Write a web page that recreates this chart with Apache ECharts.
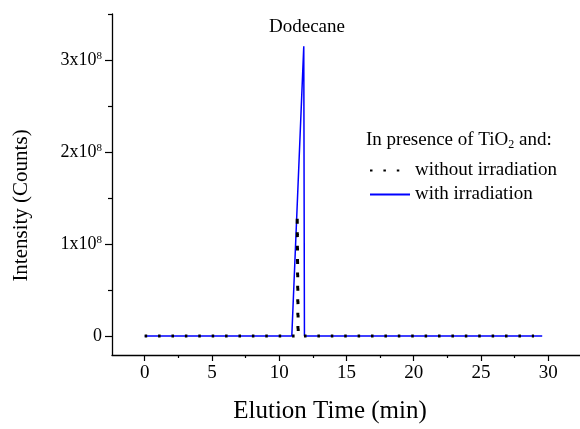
<!DOCTYPE html>
<html>
<head>
<meta charset="utf-8">
<script src="https://cdn.jsdelivr.net/npm/echarts@6/dist/echarts.min.js"></script>
<style>
  html, body { margin: 0; padding: 0; background: #fff; }
  #chart { width: 580px; height: 429px; }
</style>
</head>
<body>
<div id="chart"></div>
<script>
// elution time (min) / intensity (counts)
var timeWith = [0, 10.94, 11.83, 11.88, 12.7, 12.8, 12.9, 29.56];
var countsWith = [0, 0, 3.15e8, 0, 0, 0.02e8, 0, 0];
var timeWithout = [0, 11.4, 11.34, 11.42, 28.95];
var countsWithout = [0, 0, 1.32e8, 0, 0];

var xTicks = [0, 5, 10, 15, 20, 25, 30];
var xMinorTicks = [2.5, 7.5, 12.5, 17.5, 22.5, 27.5, 32.5];
var yTicks = [0, 1e8, 2e8, 3e8];
var yMinorTicks = [0.5e8, 1.5e8, 2.5e8, 3.5e8];

function pairs(xs, ys) {
    return xs.map(function (x, i) { return [x, ys[i]]; });
}

var font = 'Liberation Serif';
var chart = echarts.init(document.getElementById('chart'));

var xBase = {
    type: 'value',
    position: 'bottom',
    min: -2.43,
    max: 32.37,
    splitLine: { show: false }
};
var yBase = {
    type: 'value',
    position: 'left',
    min: -0.206e8,
    max: 3.5e8,
    splitLine: { show: false }
};

var option = {
    animation: false,
    textStyle: { fontFamily: font },
    grid: { left: 112, right: 0, top: 14, bottom: 66 },
    xAxis: [
        Object.assign({}, xBase, {
            name: 'Elution Time (min)',
            nameLocation: 'middle',
            nameGap: 44,
            nameTextStyle: { fontFamily: font, fontSize: 25, color: '#000', padding: [0, 32, 0, 0] },
            axisLine: { onZero: false, lineStyle: { color: '#000', width: 1.3 } },
            axisTick: { customValues: xTicks, length: 6, lineStyle: { color: '#000', width: 1.2 } },
            axisLabel: { customValues: xTicks, margin: 9, fontFamily: font, fontSize: 19, color: '#000' }
        }),
        Object.assign({}, xBase, {
            axisLine: { show: false, onZero: false },
            axisTick: { customValues: xMinorTicks, length: 3, lineStyle: { color: '#000', width: 1.2 } },
            axisLabel: { show: false }
        })
    ],
    yAxis: [
        Object.assign({}, yBase, {
            name: 'Intensity (Counts)',
            nameLocation: 'middle',
            nameGap: 80,
            nameRotate: 90,
            nameTextStyle: { fontFamily: font, fontSize: 21, color: '#000', padding: [0, 42, 0, 0] },
            axisLine: { onZero: false, lineStyle: { color: '#000', width: 1.3 } },
            axisTick: { customValues: yTicks, length: 7, lineStyle: { color: '#000', width: 1.2 } },
            axisLabel: {
                customValues: yTicks,
                margin: 10,
                formatter: function (v) {
                    if (v === 0) return '{b|0}';
                    return '{b|' + Math.round(v / 1e8) + 'x10}{s|8}';
                },
                rich: {
                    b: { fontFamily: font, fontSize: 18, color: '#000' },
                    s: { fontFamily: font, fontSize: 11, color: '#000', verticalAlign: 'top', padding: [0, 0, 8, 0] }
                }
            }
        }),
        Object.assign({}, yBase, {
            axisLine: { show: false, onZero: false },
            axisTick: { customValues: yMinorTicks, length: 4, lineStyle: { color: '#000', width: 1.2 } },
            axisLabel: { show: false }
        })
    ],
    legend: {
        orient: 'vertical',
        left: 364,
        top: 156,
        itemWidth: 40,
        itemHeight: 14,
        itemGap: 5,
        itemStyle: { opacity: 0 },
        textStyle: { fontFamily: font, fontSize: 19, color: '#000' },
        data: ['without irradiation', 'with irradiation']
    },
    graphic: [
        {
            type: 'text',
            x: 307,
            y: 27,
            style: { text: 'Dodecane', font: '19px "Liberation Serif"', fill: '#000', align: 'center', verticalAlign: 'middle' }
        },
        {
            type: 'text',
            x: 366,
            y: 140,
            style: {
                text: '{a|In presence of TiO}{u|2}{a| and:}',
                verticalAlign: 'middle',
                rich: {
                    a: { fontFamily: font, fontSize: 19, fill: '#000', lineHeight: 22 },
                    u: { fontFamily: font, fontSize: 12, fill: '#000', verticalAlign: 'bottom', padding: [9, 0, 0, 0], lineHeight: 22 }
                }
            }
        }
    ],
    series: [
        {
            name: 'with irradiation',
            type: 'line',
            symbol: 'none',
            data: pairs(timeWith, countsWith),
            lineStyle: { color: '#0000ff', width: 1.5 },
            itemStyle: { color: '#0000ff' },
            z: 2
        },
        {
            name: 'without irradiation',
            type: 'line',
            symbol: 'none',
            data: pairs(timeWithout, countsWithout),
            lineStyle: { color: '#000', width: 3, type: [2.5, 10.9] },
            itemStyle: { color: '#000' },
            z: 3
        }
    ]
};
chart.setOption(option);
</script>
</body>
</html>
